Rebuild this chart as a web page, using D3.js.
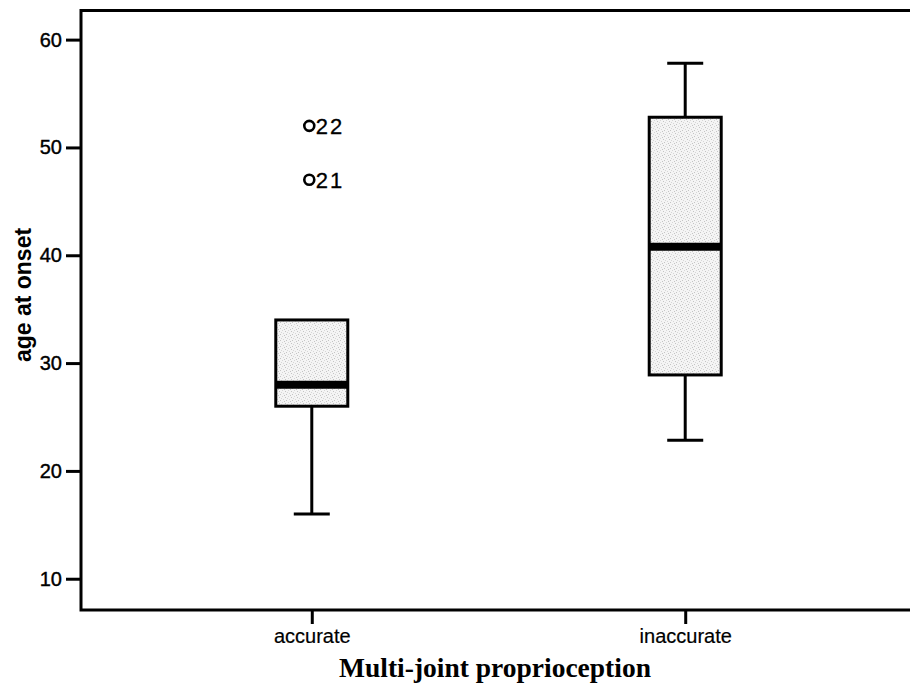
<!DOCTYPE html>
<html>
<head>
<meta charset="utf-8">
<script src="https://cdn.jsdelivr.net/npm/d3@7"></script>
<style>
  html, body { margin: 0; padding: 0; background: #fff; }
  svg { display: block; }
</style>
</head>
<body>
<svg id="chart" width="910" height="694"></svg>
<script>
// ---- data ----
const categories = ["accurate", "inaccurate"];
const whiskerLow  = [16, 22.85];
const q1          = [26, 28.9];
const medians     = [28, 40.8];
const q3          = [34, 52.8];
const whiskerHigh = [34, 57.8];
const outlierCat    = ["accurate", "accurate"];
const outlierValues = [52, 47];
const outlierLabels = ["22", "21"];
const yTicks = [10, 20, 30, 40, 50, 60];
const yTitle = "age at onset";
const xTitle = "Multi-joint proprioception";

// ---- layout ----
const svg = d3.select("#chart");
const pLeft = 81, pRight = 916, pTop = 10.5, pBottom = 610;

const y = d3.scaleLinear().domain([7.1, 62.7]).range([pBottom, pTop]);
const x = d3.scalePoint().domain(categories).range([pLeft, pRight]).padding(0.618);

// stipple pattern for boxes
const defs = svg.append("defs");
const pat = defs.append("pattern").attr("id", "stipple")
  .attr("width", 6).attr("height", 6).attr("patternUnits", "userSpaceOnUse");
pat.append("rect").attr("width", 6).attr("height", 6).attr("fill", "#f4f4f4");
[[0,0],[3,1],[1,3],[4,4],[5,2],[2,5]].forEach(([a,b], i) => {
  pat.append("rect").attr("x", a).attr("y", b).attr("width", 1).attr("height", 1)
    .attr("fill", i % 2 ? "#c4c4c4" : "#d6d6d6");
});

const boxes = categories.map((c, i) => ({
  cat: c, lo: whiskerLow[i], q1: q1[i], med: medians[i], q3: q3[i], hi: whiskerHigh[i]
}));

const boxW = 72, capW = 36;
const g = svg.append("g");

boxes.forEach(b => {
  const cx = x(b.cat);
  g.append("line").attr("x1", cx).attr("x2", cx).attr("y1", y(b.q1)).attr("y2", y(b.lo))
    .attr("stroke", "#000").attr("stroke-width", 3);
  g.append("line").attr("x1", cx - capW/2).attr("x2", cx + capW/2).attr("y1", y(b.lo)).attr("y2", y(b.lo))
    .attr("stroke", "#000").attr("stroke-width", 3);
  if (b.hi > b.q3) {
    g.append("line").attr("x1", cx).attr("x2", cx).attr("y1", y(b.q3)).attr("y2", y(b.hi))
      .attr("stroke", "#000").attr("stroke-width", 3);
    g.append("line").attr("x1", cx - capW/2).attr("x2", cx + capW/2).attr("y1", y(b.hi)).attr("y2", y(b.hi))
      .attr("stroke", "#000").attr("stroke-width", 3);
  }
  g.append("rect").attr("x", cx - boxW/2).attr("width", boxW)
    .attr("y", y(b.q3)).attr("height", y(b.q1) - y(b.q3))
    .attr("fill", "url(#stipple)").attr("stroke", "#000").attr("stroke-width", 3);
  g.append("line").attr("x1", cx - boxW/2).attr("x2", cx + boxW/2).attr("y1", y(b.med)).attr("y2", y(b.med))
    .attr("stroke", "#000").attr("stroke-width", 8);
});

// outliers
outlierValues.forEach((v, i) => {
  const cx = x(outlierCat[i]);
  g.append("circle").attr("cx", cx - 2.5).attr("cy", y(v)).attr("r", 5)
    .attr("fill", "#fff").attr("stroke", "#000").attr("stroke-width", 2.6);
  g.append("text").attr("x", cx + 4).attr("y", y(v)).attr("dy", "0.36em")
    .attr("font-family", "Liberation Sans, Arial, sans-serif").attr("font-size", 22)
    .attr("letter-spacing", 2)
    .attr("stroke", "#000").attr("stroke-width", 0.3)
    .text(outlierLabels[i]);
});

// frame
svg.append("path")
  .attr("d", `M${pRight},${pTop}H${pLeft}V${pBottom}H${pRight}`)
  .attr("fill", "none").attr("stroke", "#000").attr("stroke-width", 3);

// y axis
const yAxis = svg.append("g").attr("transform", `translate(${pLeft - 1},0)`)
  .call(d3.axisLeft(y).tickValues(yTicks).tickSize(14).tickPadding(4).tickFormat(d3.format("d")));
yAxis.select(".domain").remove();
yAxis.selectAll(".tick line").attr("stroke", "#000").attr("stroke-width", 3);
yAxis.selectAll(".tick text").attr("fill", "#000")
  .attr("stroke", "#000").attr("stroke-width", 0.4)
  .attr("font-family", "Liberation Sans, Arial, sans-serif").attr("font-size", 20);

// x axis
const xAxis = svg.append("g").attr("transform", `translate(0,${pBottom + 1})`)
  .call(d3.axisBottom(x).tickSize(13).tickPadding(5));
xAxis.select(".domain").remove();
xAxis.selectAll(".tick line").attr("stroke", "#000").attr("stroke-width", 3);
xAxis.selectAll(".tick text").attr("fill", "#000")
  .attr("stroke", "#000").attr("stroke-width", 0.2)
  .attr("font-family", "Liberation Sans, Arial, sans-serif").attr("font-size", 20);

// titles
svg.append("text").attr("transform", `translate(31,295) rotate(-90)`)
  .attr("text-anchor", "middle")
  .attr("font-family", "Liberation Sans, Arial, sans-serif").attr("font-weight", "bold")
  .attr("font-size", 23).text(yTitle);

svg.append("text").attr("x", 495).attr("y", 677)
  .attr("text-anchor", "middle")
  .attr("font-family", "Liberation Serif, Times New Roman, serif").attr("font-weight", "bold")
  .attr("font-size", 27.5).text(xTitle);
</script>
</body>
</html>
